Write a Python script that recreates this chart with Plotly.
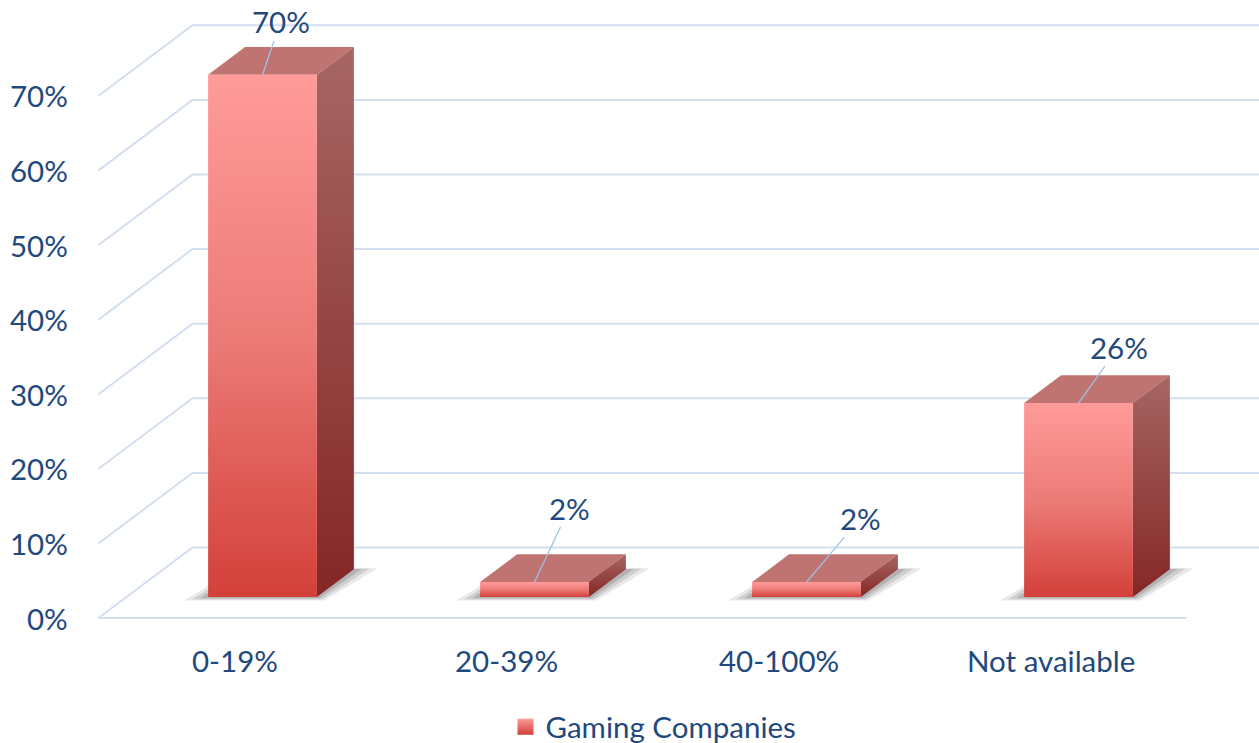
import plotly.graph_objects as go

# ---- data ----
categories = ["0-19%", "20-39%", "40-100%", "Not available"]
values = [70, 2, 2, 26]
y_ticks = [0, 10, 20, 30, 40, 50, 60, 70]
y_tick_labels = ["0%", "10%", "20%", "30%", "40%", "50%", "60%", "70%"]
value_labels = ["70%", "2%", "2%", "26%"]
series_name = "Gaming Companies"

# ---- layout geometry (pseudo-3D projection) ----
W, H = 1259, 743
PX_X = 272.0          # pixels per category
PX_Y = 7.46           # pixels per percentage point
ORIGIN_X = 262.5      # pixel x of first category (bar front plane)
ORIGIN_Y = 597.0      # pixel y of 0% (bar front plane)
SLOPE = 0.75          # vertical / horizontal ratio of the depth direction
BAR_HALF = 0.2        # half bar width in category units
BAR_DEPTH = 37        # bar depth, px along depth direction
FLOOR_FRONT = -28     # floor front edge depth, px
WALL = 66             # back wall depth, px

TEXT = "#1F497D"
GRID = "#D3DFF0"
LEADER = "#9DC3E6"
FONT = "Lato"
FS = 29.5


def depth(h):
    """Offset (dx, dy) in data units for a depth of h pixels."""
    return h / PX_X, h * SLOPE / PX_Y


x_range = [-ORIGIN_X / PX_X, (W - ORIGIN_X) / PX_X]
y_range = [-(H - ORIGIN_Y) / PX_Y, ORIGIN_Y / PX_Y]
x_lo, x_hi = -0.5, len(categories) - 0.5

fig = go.Figure()

# ---- walls and gridlines ----
fdx, fdy = depth(FLOOR_FRONT)
wdx, wdy = depth(WALL)
gx, gy = [], []
for v in y_ticks:
    gx += [x_lo + fdx, x_lo + wdx, x_hi + wdx, None]
    gy += [v + fdy, v + wdy, v + wdy, None]
gx += [x_lo + fdx, x_hi + fdx, None]
gy += [fdy, fdy, None]
fig.add_trace(go.Scatter(x=gx, y=gy, mode="lines", line=dict(color=GRID, width=2),
                         hoverinfo="skip", showlegend=False))

# ---- floor shadows ----
bdx, bdy = depth(BAR_DEPTH)
for i, v in enumerate(values):
    for e, a in [(24, 0.10), (16, 0.13), (8, 0.16)]:
        ex = e / PX_X
        ey = e * 0.15 / PX_Y
        sx = [i - BAR_HALF - ex, i + BAR_HALF + ex * 0.3, i + BAR_HALF + bdx + ex, i - BAR_HALF + bdx - ex * 0.3]
        sy = [-ey, -ey, bdy + ey * 0.3, bdy + ey * 0.3]
        fig.add_trace(go.Scatter(x=sx + [sx[0]], y=sy + [sy[0]], mode="lines", fill="toself",
                                 fillcolor=f"rgba(40,40,40,{a})", line=dict(width=0),
                                 hoverinfo="skip", showlegend=False))

# ---- bars: top, side and front faces ----
for i, v in enumerate(values):
    l, r = i - BAR_HALF, i + BAR_HALF
    # top face
    fig.add_trace(go.Scatter(x=[l, r, r + bdx, l + bdx, l], y=[v, v, v + bdy, v + bdy, v],
                             mode="lines", fill="toself", fillcolor="#C07471",
                             line=dict(width=0), hoverinfo="skip", showlegend=False))
    # side face
    fig.add_trace(go.Scatter(x=[r, r + bdx, r + bdx, r, r], y=[0, bdy, v + bdy, v, 0],
                             mode="lines", fill="toself",
                             fillgradient=dict(type="vertical",
                                               colorscale=[[0, "#842725"], [1, "#A66664"]]),
                             line=dict(width=0), hoverinfo="skip", showlegend=False))
    # front face
    fig.add_trace(go.Scatter(x=[l, r, r, l, l], y=[0, 0, v, v, 0],
                             mode="lines", fill="toself",
                             fillgradient=dict(type="vertical",
                                               colorscale=[[0, "#D3403A"], [0.5, "#EC7B77"], [1, "#FF9B99"]]),
                             line=dict(width=0), hoverinfo="skip", showlegend=False))

# legend entry for the series
fig.add_trace(go.Scatter(x=[None], y=[None], mode="markers", name=series_name,
                         marker=dict(symbol="square", size=16, color="#FF9B99",
                                     gradient=dict(type="vertical", color="#D3403A")),
                         showlegend=True))

annotations = []
# value labels with leader lines
label_offsets = [(18, -53), (35, -74), (54, -64), (40, -56)]
for i, (v, t) in enumerate(zip(values, value_labels)):
    ax, ay = label_offsets[i]
    annotations.append(dict(x=i, y=v, xref="x", yref="y", text=t, showarrow=True,
                            arrowhead=0, arrowwidth=1.3, arrowcolor=LEADER, ax=ax, ay=ay,
                            standoff=0, font=dict(family=FONT, size=FS, color=TEXT)))
# y tick labels
for v, t in zip(y_ticks, y_tick_labels):
    annotations.append(dict(x=70 / W, y=v + fdy, xref="paper", yref="y", text=t,
                            showarrow=False, xanchor="right", yanchor="middle",
                            font=dict(family=FONT, size=FS, color=TEXT)))
# category labels
for i, c in enumerate(categories):
    annotations.append(dict(x=i + fdx, y=1 - 660 / H, xref="x", yref="paper", text=c,
                            showarrow=False, xanchor="center", yanchor="middle",
                            font=dict(family=FONT, size=FS, color=TEXT)))

fig.update_layout(
    width=W, height=H,
    margin=dict(l=0, r=0, t=0, b=0, autoexpand=False),
    paper_bgcolor="white", plot_bgcolor="white",
    xaxis=dict(range=x_range, visible=False, fixedrange=True),
    yaxis=dict(range=y_range, visible=False, fixedrange=True),
    annotations=annotations,
    legend=dict(orientation="h", x=0.5 + 24 / W, xanchor="center", y=-10 / H, yanchor="bottom",
                font=dict(family=FONT, size=FS, color=TEXT), bgcolor="rgba(0,0,0,0)"),
    showlegend=True,
    hovermode=False,
)

fig.write_html("out.html")
